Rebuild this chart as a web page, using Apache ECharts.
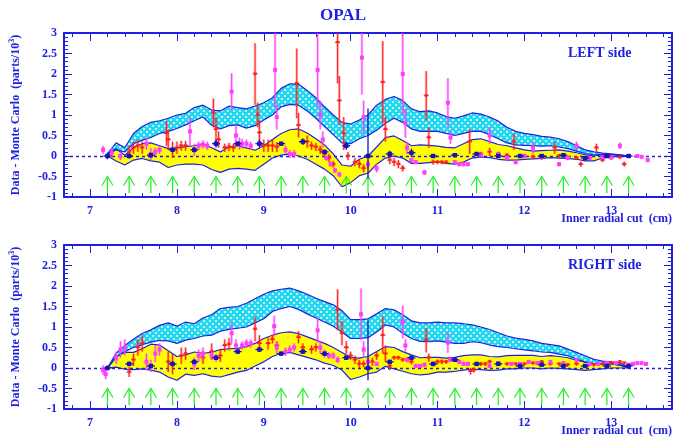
<!DOCTYPE html>
<html>
<head>
<meta charset="utf-8">
<script src="https://cdn.jsdelivr.net/npm/echarts@6/dist/echarts.min.js"></script>
<style>html,body{margin:0;padding:0;background:#fff;}#c{width:686px;height:439px;}</style>
</head>
<body>
<div id="c"></div>
<script>
// ---------- DATA ----------
const xGrid = [7.2,7.3,7.4,7.5,7.6,7.7,7.8,7.9,8.0,8.1,8.2,8.3,8.4,8.5,8.6,8.7,8.8,8.9,9.0,9.1,9.2,9.3,9.4,9.5,9.6,9.7,9.8,9.9,10.0,10.1,10.2,10.3,10.4,10.5,10.6,10.7,10.8,10.9,11.0,11.1,11.2,11.3,11.4,11.5,11.6,11.7,11.8,11.9,12.0,12.1,12.2,12.3,12.4,12.5,12.6,12.7,12.8,12.9,13.0,13.1,13.2];

// LEFT side bands
const leftCyanTop = [0.05,0.32,0.2,0.55,0.72,0.82,0.86,0.92,1.0,1.04,1.18,1.24,1.12,1.1,1.22,1.18,1.15,1.22,1.3,1.42,1.65,1.76,1.75,1.6,1.42,1.2,1.0,0.82,0.78,0.88,1.0,1.24,1.38,1.45,1.35,1.15,1.08,1.1,1.05,0.96,0.92,0.98,1.05,1.02,0.95,0.85,0.7,0.6,0.55,0.52,0.48,0.46,0.42,0.35,0.25,0.15,0.1,0.07,0.05,0.03,0.0];
const leftCyanBot = [0.02,0.15,0.1,0.3,0.38,0.45,0.55,0.6,0.67,0.76,0.86,0.95,0.75,0.66,0.74,0.76,0.68,0.74,0.88,1.0,1.2,1.26,1.24,1.1,0.92,0.72,0.52,0.32,0.3,0.42,0.5,0.63,0.8,0.92,0.82,0.66,0.6,0.6,0.6,0.55,0.5,0.55,0.6,0.6,0.52,0.42,0.32,0.27,0.26,0.25,0.24,0.25,0.22,0.18,0.12,0.06,0.03,0.04,0.03,0.02,0.0];
const leftYelTop = [0.05,0.18,0.02,0.2,0.3,0.32,0.25,0.18,0.2,0.23,0.25,0.3,0.2,0.1,0.22,0.25,0.2,0.14,0.25,0.4,0.55,0.64,0.66,0.56,0.42,0.27,0.05,-0.22,-0.25,-0.08,0.0,0.22,0.45,0.49,0.38,0.25,0.27,0.26,0.24,0.21,0.2,0.3,0.4,0.42,0.35,0.28,0.25,0.2,0.15,0.12,0.13,0.14,0.15,0.12,0.08,0.03,0.0,0.03,0.03,0.02,0.0];
const leftYelBot = [0.0,-0.12,-0.22,-0.1,-0.06,-0.12,-0.15,-0.28,-0.22,-0.2,-0.2,-0.22,-0.33,-0.4,-0.32,-0.3,-0.32,-0.35,-0.2,-0.05,0.02,0.05,0.0,-0.08,-0.2,-0.32,-0.48,-0.75,-0.65,-0.48,-0.42,-0.2,-0.05,0.0,-0.05,-0.18,-0.18,-0.16,-0.15,-0.18,-0.2,-0.15,-0.05,-0.02,-0.04,-0.08,-0.1,-0.1,-0.08,-0.07,-0.06,-0.04,-0.05,-0.06,-0.08,-0.12,-0.12,-0.05,-0.02,-0.01,0.0];

// RIGHT side bands
const rightCyanTop = [0.0,0.36,0.55,0.7,0.84,0.93,1.04,1.1,1.02,1.12,1.08,1.22,1.3,1.45,1.48,1.5,1.58,1.69,1.8,1.88,1.92,1.95,1.88,1.8,1.7,1.62,1.54,1.4,1.18,1.18,1.2,1.32,1.45,1.42,1.3,1.15,1.1,1.1,1.12,1.1,1.1,1.08,1.05,1.0,0.94,0.86,0.78,0.73,0.7,0.66,0.6,0.57,0.54,0.46,0.38,0.3,0.21,0.17,0.15,0.12,0.02];
const rightCyanBot = [0.0,0.26,0.4,0.5,0.57,0.63,0.67,0.66,0.6,0.68,0.72,0.78,0.8,0.9,0.94,0.97,1.0,1.1,1.2,1.38,1.45,1.5,1.43,1.32,1.22,1.12,1.02,0.88,0.72,0.72,0.74,0.88,1.05,1.0,0.85,0.72,0.65,0.64,0.66,0.63,0.6,0.6,0.64,0.62,0.56,0.52,0.5,0.47,0.44,0.42,0.39,0.38,0.34,0.3,0.22,0.15,0.11,0.1,0.1,0.07,0.01];
const rightYelTop = [0.0,0.28,0.38,0.38,0.47,0.58,0.56,0.42,0.28,0.32,0.39,0.36,0.38,0.45,0.47,0.48,0.52,0.6,0.72,0.8,0.86,0.88,0.84,0.76,0.68,0.6,0.5,0.38,0.26,0.24,0.28,0.4,0.52,0.5,0.4,0.32,0.25,0.26,0.26,0.24,0.26,0.3,0.32,0.32,0.28,0.27,0.3,0.31,0.31,0.31,0.28,0.3,0.28,0.25,0.19,0.14,0.11,0.1,0.1,0.07,0.01];
const rightYelBot = [0.0,0.02,-0.03,-0.04,-0.02,-0.05,-0.1,-0.22,-0.3,-0.15,-0.18,-0.14,-0.2,-0.22,-0.16,-0.1,-0.06,0.05,0.15,0.28,0.36,0.38,0.32,0.26,0.2,0.12,0.06,-0.05,-0.28,-0.22,-0.14,-0.1,0.04,-0.02,-0.08,-0.14,-0.17,-0.15,-0.1,-0.1,-0.08,-0.05,-0.03,-0.04,-0.06,-0.05,-0.02,-0.02,0.0,0.0,-0.02,0.0,-0.01,-0.02,-0.04,-0.06,-0.04,-0.02,0.0,0.0,0.0];

// cut positions (green arrows)
const cutX = [7.2,7.45,7.7,7.95,8.2,8.45,8.7,8.95,9.2,9.45,9.7,9.95,10.2,10.45,10.7,10.95,11.2,11.45,11.7,11.95,12.2,12.45,12.7,12.95,13.2];

// points: [x, y, error]
const leftRed = [[7.45,0.1,0.15],[7.5,0.2,0.15],[7.55,0.25,0.15],[7.6,0.2,0.15],[7.88,0.55,0.3],[7.9,0.4,0.25],[7.95,0.15,0.2],[8.0,0.2,0.15],[8.05,0.25,0.12],[8.1,0.25,0.12],
 [8.42,1.05,0.35],[8.45,0.65,0.3],[8.48,0.4,0.2],[8.55,0.2,0.1],[8.6,0.22,0.1],[8.65,0.2,0.1],[8.9,2.0,0.75],[8.93,1.0,0.3],[8.95,0.57,0.3],[9.0,0.25,0.15],[9.05,0.25,0.15],[9.1,0.25,0.15],[9.15,0.22,0.12],
 [9.38,1.77,0.85],[9.4,0.75,0.3],[9.5,0.35,0.15],[9.55,0.25,0.1],[9.6,0.22,0.1],[9.65,0.15,0.1],[9.7,0.05,0.1],[9.75,-0.05,0.1],[9.8,-0.2,0.08],
 [9.85,2.77,1.0],[9.87,1.35,0.6],[9.92,0.55,0.4],[9.97,0.0,0.1],[10.05,-0.15,0.1],[10.1,-0.2,0.1],[10.15,-0.3,0.1],
 [10.37,1.8,1.0],[10.4,0.65,0.3],[10.45,-0.1,0.1],[10.5,-0.15,0.1],[10.55,-0.2,0.1],[10.6,-0.3,0.08],
 [10.87,1.47,0.6],[10.9,0.45,0.25],[10.95,-0.15,0.06],[11.0,-0.15,0.05],[11.05,-0.15,0.05],[11.1,-0.15,0.05],
 [11.37,0.35,0.3],[11.5,0.05,0.05],[11.6,0.1,0.1],[11.7,0.05,0.05],[11.8,0.02,0.05],[11.88,0.35,0.2],[12.0,0.0,0.05],[12.1,-0.02,0.05],[12.2,-0.05,0.05],
 [12.35,0.2,0.15],[12.4,0.0,0.05],[12.5,-0.05,0.05],[12.6,-0.05,0.05],[12.65,-0.2,0.06],[12.75,-0.05,0.04],[12.83,0.2,0.1],[12.9,-0.1,0.05],[13.0,-0.05,0.04],[13.1,-0.03,0.04],[13.15,-0.2,0.06]];
const leftMag = [[7.15,0.15,0.1],[7.25,0.08,0.12],[7.35,0.0,0.1],[7.65,0.3,0.15],[7.7,0.05,0.15],[7.75,0.1,0.1],[7.8,0.15,0.1],[8.15,0.6,0.35],[8.2,0.15,0.15],[8.25,0.25,0.1],[8.3,0.28,0.1],[8.35,0.25,0.1],
 [8.63,1.57,0.45],[8.68,0.5,0.25],[8.72,0.3,0.15],[8.75,0.3,0.12],[8.8,0.3,0.1],[8.85,0.25,0.1],
 [9.13,2.1,0.9],[9.15,0.95,0.3],[9.25,0.15,0.1],[9.3,0.05,0.1],[9.35,0.05,0.1],[9.62,2.1,0.9],[9.65,1.0,0.35],[9.68,0.4,0.2],
 [9.72,-0.05,0.06],[9.77,-0.2,0.06],[9.82,-0.35,0.06],[9.87,-0.45,0.06],
 [10.13,2.4,0.9],[10.15,0.95,0.4],[10.2,-0.2,0.1],[10.3,-0.3,0.1],[10.6,2.0,1.0],[10.63,0.8,0.35],[10.65,0.2,0.15],[10.7,-0.1,0.06],[10.75,-0.15,0.05],[10.85,-0.4,0.06],
 [11.12,1.3,0.6],[11.15,0.45,0.15],[11.2,-0.15,0.05],[11.25,-0.2,0.05],[11.3,-0.2,0.05],[11.35,-0.2,0.05],[11.5,0.03,0.05],
 [11.6,0.5,0.2],[11.7,0.05,0.05],[11.8,-0.05,0.05],[11.9,-0.15,0.05],[12.0,0.0,0.05],[12.1,0.2,0.15],[12.2,-0.02,0.04],[12.4,-0.2,0.05],[12.5,-0.05,0.04],
 [12.6,0.25,0.1],[12.75,-0.05,0.04],[12.9,-0.02,0.04],[13.0,-0.03,0.04],[13.1,0.25,0.08],[13.2,0.0,0.04],[13.3,0.0,0.04],[13.35,-0.02,0.04],[13.42,-0.1,0.05]];
const rightRed = [[7.45,-0.1,0.12],[7.5,0.2,0.15],[7.55,0.5,0.2],[7.6,0.6,0.2],[7.9,0.15,0.25],[7.95,0.1,0.25],[8.05,0.3,0.2],[8.1,0.35,0.15],[8.3,0.25,0.15],[8.4,0.4,0.2],[8.5,0.3,0.15],[8.55,0.55,0.15],[8.6,0.58,0.15],
 [8.9,0.95,0.3],[8.95,0.6,0.2],[9.05,0.6,0.15],[9.1,0.7,0.1],[9.15,0.55,0.1],[9.4,0.75,0.15],[9.45,0.5,0.1],[9.55,0.45,0.1],[9.6,0.5,0.1],
 [9.85,1.42,0.5],[9.9,0.85,0.3],[9.95,0.5,0.15],[10.0,0.3,0.1],[10.05,0.2,0.1],[10.1,0.1,0.1],[10.15,0.1,0.08],[10.25,0.15,0.1],[10.3,0.3,0.1],
 [10.37,0.8,0.45],[10.4,0.35,0.2],[10.45,0.05,0.1],[10.5,0.25,0.05],[10.55,0.25,0.05],[10.6,0.2,0.05],[10.7,0.15,0.06],[10.87,0.68,0.3],[10.9,0.25,0.1],[10.95,0.1,0.06],[11.0,0.15,0.06],[11.05,0.15,0.06],[11.1,0.15,0.05],[11.15,0.2,0.05],
 [11.38,-0.08,0.08],[11.42,-0.05,0.06],[11.5,0.1,0.05],[11.55,0.1,0.05],[11.6,0.15,0.05],[11.7,0.1,0.04],[11.8,0.1,0.04],[11.9,0.1,0.04],[12.0,0.1,0.04],[12.1,0.12,0.04],[12.2,0.15,0.04],[12.3,0.1,0.04],[12.4,0.1,0.04],[12.5,0.08,0.04],[12.6,0.1,0.04],[12.7,0.05,0.04],[12.8,0.08,0.04],[12.9,0.1,0.04],[13.0,0.12,0.04],[13.1,0.15,0.04],[13.15,0.12,0.04]];
const rightMag = [[7.15,-0.05,0.12],[7.18,-0.15,0.12],[7.3,0.25,0.15],[7.35,0.45,0.2],[7.4,0.5,0.2],[7.65,0.15,0.2],[7.7,0.05,0.15],[7.75,0.35,0.2],[7.8,0.45,0.15],[8.2,0.1,0.15],[8.25,0.3,0.15],[8.3,0.35,0.15],[8.4,0.3,0.1],[8.45,0.25,0.1],
 [8.63,0.85,0.25],[8.68,0.55,0.15],[8.75,0.55,0.1],[8.8,0.6,0.1],[8.85,0.6,0.1],[9.12,1.02,0.25],[9.15,0.5,0.15],[9.25,0.4,0.1],[9.3,0.45,0.1],[9.35,0.5,0.1],
 [9.62,0.92,0.3],[9.65,0.5,0.15],[9.7,0.35,0.1],[9.75,0.3,0.08],[9.8,0.3,0.08],[9.85,0.2,0.08],[10.12,1.31,0.63],[10.15,0.45,0.2],[10.2,0.15,0.1],[10.3,0.1,0.05],
 [10.6,1.12,0.4],[10.63,0.55,0.15],[10.65,0.2,0.06],[10.75,0.05,0.05],[10.8,0.05,0.05],[10.85,0.08,0.05],[11.12,0.62,0.25],[11.15,0.2,0.05],[11.25,0.15,0.05],[11.3,0.1,0.05],[11.35,0.1,0.05],
 [11.6,0.05,0.05],[11.7,0.12,0.04],[11.85,0.1,0.04],[11.95,0.1,0.04],[12.05,0.15,0.04],[12.15,0.12,0.04],[12.3,0.15,0.04],[12.45,0.12,0.04],[12.6,0.2,0.04],[12.75,0.1,0.04],[12.85,0.1,0.04],[12.95,0.12,0.04],[13.05,0.12,0.04],
 [13.2,0.08,0.04],[13.25,0.1,0.04],[13.3,0.12,0.04],[13.35,0.12,0.04],[13.4,0.1,0.04]];
// reference points at cut positions: [x, y, low, high]
const leftBlue = [[7.2,0,-0.08,0.08],[7.45,0.0,-0.06,0.06],[7.7,0.02,-0.04,0.08],[7.95,0.15,0.09,0.21],[8.2,0.15,0.09,0.21],[8.45,0.3,0.2,0.4],[8.7,0.3,0.25,0.35],[8.95,0.3,0.2,0.4],[9.2,0.3,0.25,0.35],[9.45,0.35,0.27,0.43],[9.7,0.1,0.05,0.15],[9.95,0.25,0.15,0.35],[10.2,0.0,-0.55,1.16],[10.45,0.05,-0.03,0.13],[10.7,0.08,-0.02,0.18],[10.95,0.0,-0.05,0.05],[11.2,0.02,-0.03,0.07],[11.45,0.05,0.01,0.09],[11.7,0.0,-0.04,0.04],[11.95,0.0,-0.03,0.03],[12.2,0.0,-0.03,0.03],[12.45,0.02,-0.01,0.05],[12.7,-0.05,-0.08,-0.02],[12.95,0.0,-0.03,0.03],[13.2,0.0,-0.03,0.03]];
const rightBlue = [[7.2,0,-0.06,0.06],[7.45,0.1,0.04,0.16],[7.7,0.05,0.0,0.1],[7.95,0.1,0.04,0.16],[8.2,0.15,0.1,0.2],[8.45,0.25,0.2,0.3],[8.7,0.4,0.35,0.45],[8.95,0.45,0.4,0.5],[9.2,0.35,0.3,0.4],[9.45,0.4,0.35,0.45],[9.7,0.35,0.3,0.4],[9.95,0.25,0.2,0.3],[10.2,0.0,-0.3,1.16],[10.45,0.15,0.1,0.2],[10.7,0.25,0.2,0.3],[10.95,0.1,0.06,0.14],[11.2,0.2,0.16,0.24],[11.45,0.1,0.07,0.13],[11.7,0.1,0.07,0.13],[11.95,0.05,0.02,0.08],[12.2,0.08,0.05,0.11],[12.45,0.05,0.02,0.08],[12.7,0.05,0.02,0.08],[12.95,0.05,0.02,0.08],[13.2,0.05,0.02,0.08]];

const xMajor = [7,8,9,10,11,12,13];
const xMinor = [6.8,7.2,7.4,7.6,7.8,8.2,8.4,8.6,8.8,9.2,9.4,9.6,9.8,10.2,10.4,10.6,10.8,11.2,11.4,11.6,11.8,12.2,12.4,12.6,12.8,13.2,13.4,13.6];

// ---------- STYLE ----------
const BLUE = '#2020e0';
const FONT = '"Liberation Serif","Times New Roman",serif';
const RED = '#ff2020', MAG = '#ff3cff', PTBLUE = '#1414b4', GREEN = '#2cf02c';

const pat = document.createElement('canvas');
pat.width = 6; pat.height = 6;
(function(){
  const c = pat.getContext('2d');
  c.fillStyle = '#ffffff'; c.fillRect(0,0,6,6);
  c.strokeStyle = '#1ed8f0'; c.lineWidth = 2.4;
  c.beginPath(); c.moveTo(-1,-1); c.lineTo(7,7); c.moveTo(7,-1); c.lineTo(-1,7); c.stroke();
})();

const chart = echarts.init(document.getElementById('c'), null, {renderer:'canvas'});

const grids = [
  {left:61, top:33, width:611, height:164},
  {left:61, top:245, width:611, height:164}
];

function xAxes(g){
  const ls = {color:BLUE, width:1};
  return [
    {gridIndex:g, type:'value', min:6.7, max:13.7, position:'bottom',
     axisLine:{show:true, onZero:false, lineStyle:{color:BLUE, width:2}},
     axisTick:{show:true, inside:true, length:8, customValues:xMajor, lineStyle:ls},
     axisLabel:{show:true, customValues:xMajor, margin:8, color:BLUE, fontFamily:FONT, fontWeight:'bold', fontSize:12},
     splitLine:{show:false}},
    {gridIndex:g, type:'value', min:6.7, max:13.7, position:'bottom',
     axisLine:{show:false, onZero:false}, axisTick:{show:true, inside:true, length:4, customValues:xMinor, lineStyle:ls},
     axisLabel:{show:false}, splitLine:{show:false}},
    {gridIndex:g, type:'value', min:6.7, max:13.7, position:'top',
     axisLine:{show:true, onZero:false, lineStyle:{color:BLUE, width:2}},
     axisTick:{show:true, inside:true, length:8, customValues:xMajor, lineStyle:ls},
     axisLabel:{show:false}, splitLine:{show:false}},
    {gridIndex:g, type:'value', min:6.7, max:13.7, position:'top',
     axisLine:{show:false, onZero:false}, axisTick:{show:true, inside:true, length:4, customValues:xMinor, lineStyle:ls},
     axisLabel:{show:false}, splitLine:{show:false}}
  ];
}
function yAxes(g){
  const ls = {color:BLUE, width:1};
  return [
    {gridIndex:g, type:'value', min:-1, max:3, interval:0.5, position:'left',
     name:'Data - Monte Carlo  (parts/10{sup|3})', nameLocation:'middle', nameGap:40, nameRotate:90,
     nameTextStyle:{color:BLUE, fontFamily:FONT, fontWeight:'bold', fontSize:12,
       rich:{sup:{color:BLUE, fontFamily:FONT, fontWeight:'bold', fontSize:8, verticalAlign:'bottom', padding:[0,0,8,0]}}},
     axisLine:{show:true, onZero:false, lineStyle:{color:BLUE, width:2}},
     axisTick:{show:true, inside:true, length:8, lineStyle:ls},
     minorTick:{show:true, splitNumber:5, length:4, lineStyle:ls},
     axisLabel:{show:true, margin:7, color:BLUE, fontFamily:FONT, fontWeight:'bold', fontSize:12},
     splitLine:{show:false}, minorSplitLine:{show:false}},
    {gridIndex:g, type:'value', min:-1, max:3, interval:0.5, position:'right',
     axisLine:{show:true, onZero:false, lineStyle:{color:BLUE, width:2}},
     axisTick:{show:true, inside:true, length:8, lineStyle:ls},
     minorTick:{show:true, splitNumber:5, length:4, lineStyle:ls},
     axisLabel:{show:false}, splitLine:{show:false}, minorSplitLine:{show:false}}
  ];
}

function bandSeries(g, up, lo, fill){
  return {
    type:'custom', xAxisIndex:g*4, yAxisIndex:g*2, silent:true, clip:true, z:1,
    data:[[xGrid[0], lo[0]]], encode:{x:0, y:1},
    renderItem:function(params, api){
      const pts = [];
      for (let i=0;i<xGrid.length;i++) pts.push(api.coord([xGrid[i], up[i]]));
      for (let i=xGrid.length-1;i>=0;i--) pts.push(api.coord([xGrid[i], lo[i]]));
      return {type:'polygon', shape:{points:pts}, style:{fill:fill, stroke:null}};
    }
  };
}
function outline(g, arr){
  return {type:'line', xAxisIndex:g*4, yAxisIndex:g*2, silent:true, z:3, symbol:'none',
    lineStyle:{color:BLUE, width:1.2}, data:xGrid.map((x,i)=>[x, arr[i]])};
}
function arrows(g){
  return {type:'custom', xAxisIndex:g*4, yAxisIndex:g*2, silent:true, z:4,
    data:cutX.map(x=>[x, -0.5]), encode:{x:0, y:1},
    renderItem:function(params, api){
      const x = api.value(0);
      const tip = api.coord([x, -0.5]), tail = api.coord([x, -0.91]);
      const st = {stroke:GREEN, lineWidth:1.3, fill:null};
      return {type:'group', children:[
        {type:'line', shape:{x1:tip[0], y1:tip[1], x2:tail[0], y2:tail[1]}, style:st},
        {type:'polyline', shape:{points:[[tip[0]-5.5, tip[1]+9],[tip[0], tip[1]],[tip[0]+5.5, tip[1]+9]]}, style:st}
      ]};
    }};
}
function errPoints(g, data, color, kind){
  return {type:'custom', xAxisIndex:g*4, yAxisIndex:g*2, silent:true, clip:true, z:6,
    data:data, encode:{x:0, y:1},
    renderItem:function(params, api){
      const x=api.value(0), y=api.value(1), e=api.value(2);
      const p=api.coord([x,y]), a=api.coord([x,y-e]), b=api.coord([x,y+e]);
      const ch = [];
      ch.push({type:'line', shape:{x1:a[0],y1:a[1],x2:b[0],y2:b[1]}, style:{stroke:color, lineWidth:2.6, opacity:0.35}});
      ch.push({type:'line', shape:{x1:a[0],y1:a[1],x2:b[0],y2:b[1]}, style:{stroke:color, lineWidth:1}});
      if (kind==='sq') {
        ch.push({type:'rect', shape:{x:p[0]-2, y:p[1]-2, width:4, height:4}, style:{fill:color}});
      } else {
        ch.push({type:'line', shape:{x1:p[0]-2.5,y1:p[1],x2:p[0]+2.5,y2:p[1]}, style:{stroke:color, lineWidth:1.2}});
        ch.push({type:'polygon', shape:{points:[[p[0]-2,p[1]-1.5],[p[0]+2,p[1]-1.5],[p[0],p[1]+2]]}, style:{fill:color}});
      }
      return {type:'group', children:ch};
    }};
}
function bluePoints(g, data){
  return {type:'custom', xAxisIndex:g*4, yAxisIndex:g*2, silent:true, clip:true, z:7,
    data:data, encode:{x:0, y:1},
    renderItem:function(params, api){
      const x=api.value(0), y=api.value(1), lo=api.value(2), hi=api.value(3);
      const p=api.coord([x,y]), a=api.coord([x,lo]), b=api.coord([x,hi]);
      return {type:'group', children:[
        {type:'line', shape:{x1:a[0],y1:a[1],x2:b[0],y2:b[1]}, style:{stroke:PTBLUE, lineWidth:1.3}},
        {type:'line', shape:{x1:p[0]-4,y1:p[1],x2:p[0]+4,y2:p[1]}, style:{stroke:PTBLUE, lineWidth:1.3}},
        {type:'rect', shape:{x:p[0]-2.2, y:p[1]-2.2, width:4.4, height:4.4}, style:{fill:PTBLUE}}
      ]};
    }};
}
function zeroLine(g){
  return {type:'line', xAxisIndex:g*4, yAxisIndex:g*2, silent:true, z:5, symbol:'none', data:[],
    markLine:{silent:true, symbol:'none', label:{show:false},
      lineStyle:{color:BLUE, type:[3,3], width:1.3}, data:[{yAxis:0}]}};
}

function panel(g, ct, cb, yt, yb, red, mag, blue){
  return [
    bandSeries(g, ct, cb, {image:pat, repeat:'repeat'}),
    bandSeries(g, yt, yb, '#ffff00'),
    outline(g, ct), outline(g, cb), outline(g, yt), outline(g, yb),
    zeroLine(g), arrows(g),
    errPoints(g, red, RED, 'tri'), errPoints(g, mag, MAG, 'sq'), bluePoints(g, blue)
  ];
}

chart.setOption({
  animation:false,
  backgroundColor:'#ffffff',
  grid:grids,
  xAxis:[...xAxes(0), ...xAxes(1)],
  yAxis:[...yAxes(0), ...yAxes(1)],
  series:[
    ...panel(0, leftCyanTop, leftCyanBot, leftYelTop, leftYelBot, leftRed, leftMag, leftBlue),
    ...panel(1, rightCyanTop, rightCyanBot, rightYelTop, rightYelBot, rightRed, rightMag, rightBlue)
  ],
  graphic:[
    {type:'text', left:'center', top:7, style:{text:'OPAL', fill:BLUE, font:'bold 17px '+FONT}},
    {type:'text', left:568, top:46, style:{text:'LEFT side', fill:BLUE, font:'bold 14px '+FONT}},
    {type:'text', left:568, top:258, style:{text:'RIGHT side', fill:BLUE, font:'bold 14px '+FONT}},
    {type:'text', right:14, top:213, style:{text:'Inner radial cut  (cm)', fill:BLUE, font:'bold 12px '+FONT}},
    {type:'text', right:14, top:425, style:{text:'Inner radial cut  (cm)', fill:BLUE, font:'bold 12px '+FONT}}
  ]
});
</script>
</body>
</html>
